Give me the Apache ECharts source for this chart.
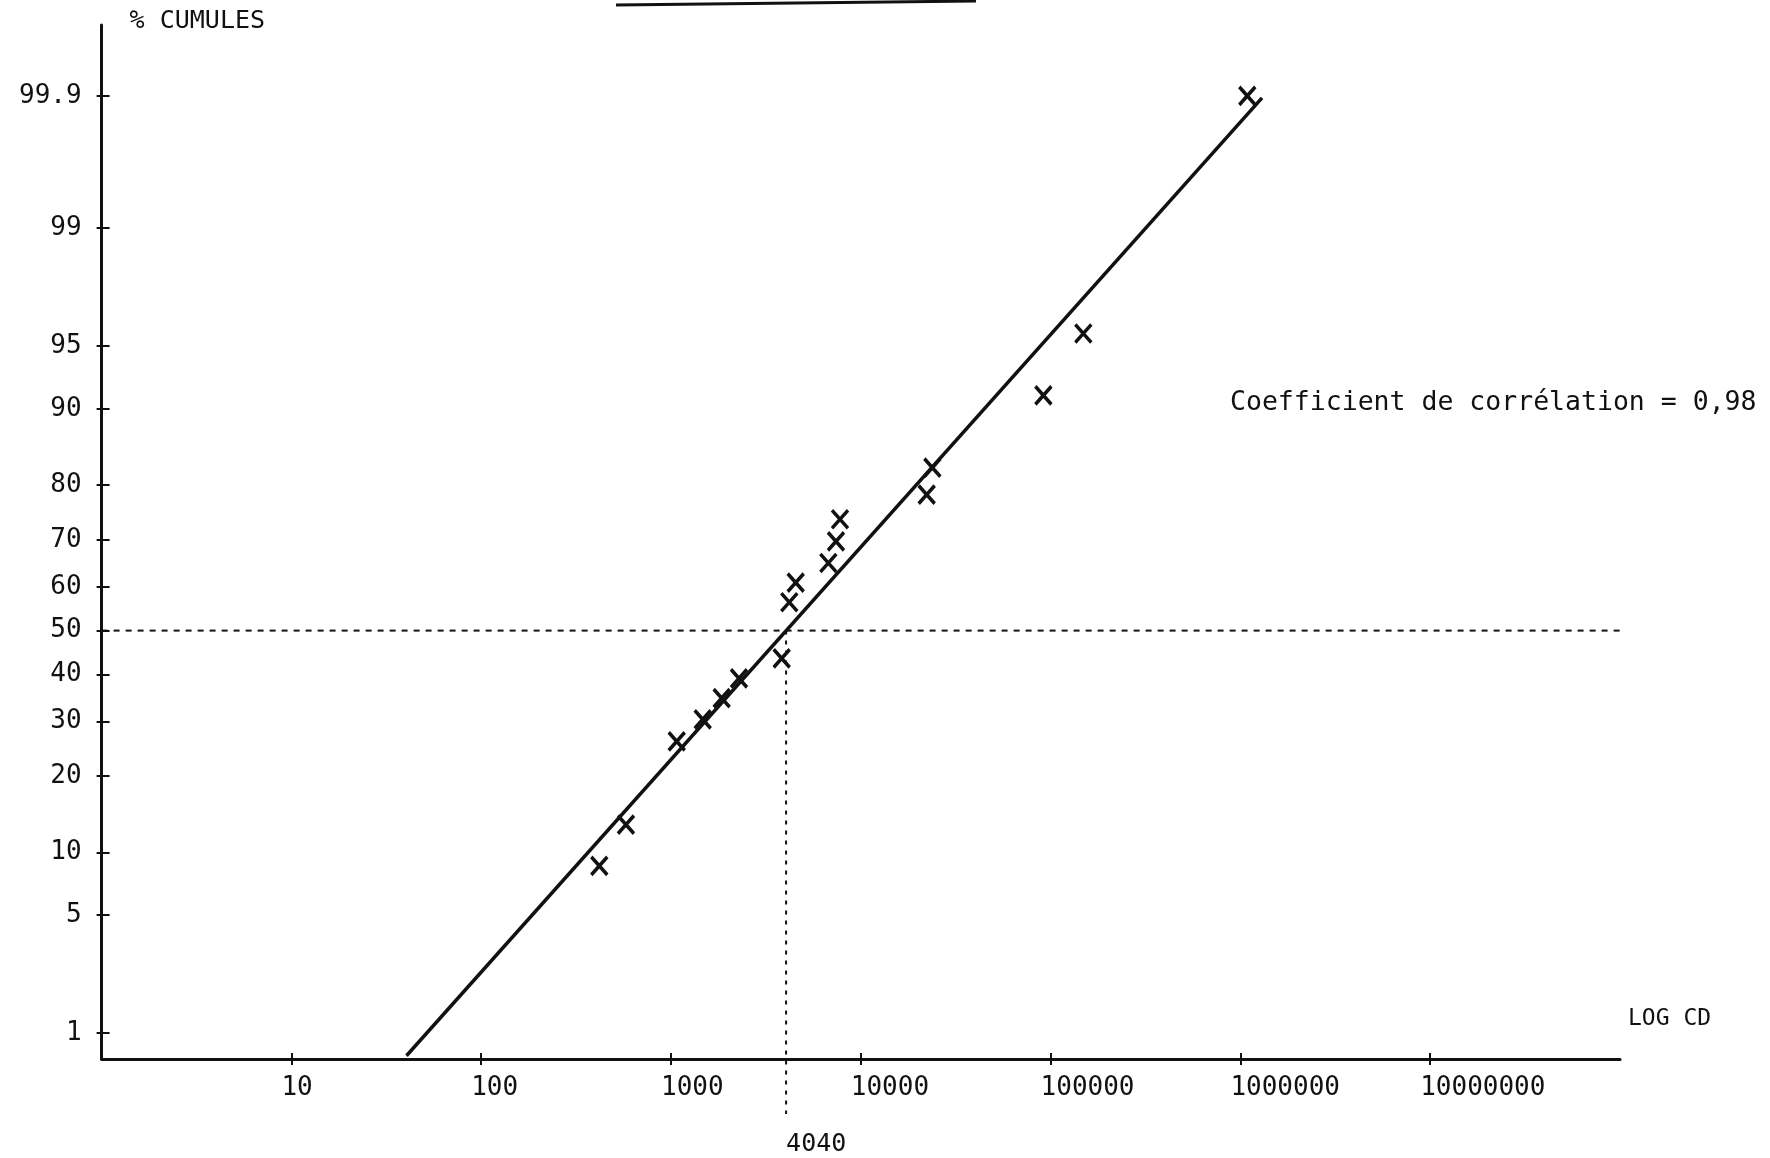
<!DOCTYPE html>
<html>
<head>
<meta charset="utf-8">
<title>Droite de Henry – log CD</title>
<script src="https://cdn.jsdelivr.net/npm/echarts@6/dist/echarts.min.js"></script>
<style>
  html, body { margin: 0; padding: 0; background: #ffffff; }
  #chart { width: 1770px; height: 1158px; }
</style>
</head>
<body>
<div id="chart"></div>
<script>
// Sample values (log scale) and their cumulative frequencies (%)
const sampleValues = [419, 579, 1072, 1469, 1849, 2281, 3830, 4200, 4540, 6745, 7400, 7770, 22240, 23820, 91600, 148700, 1087000];
const cumulativePct = [8.7, 13.1, 26.1, 30.4, 34.8, 39.1, 43.6, 56.5, 60.9, 65.2, 69.7, 74.0, 78.4, 82.7, 91.3, 95.7, 99.9];

// Fitted line end points [value, cumulative %]
const fitLine = [[40.4, 0.70], [1300000, 99.896]];

// Median read on the fitted line
const medianValue = 4040;
const medianPct = 50;
const medianGuideBottomPct = 0.26;

// Axis ticks
const xTicks = [10, 100, 1000, 10000, 100000, 1000000, 10000000];
const xTickLabels = ['10', '100', '1000', '10000', '100000', '1000000', '10000000'];
const yTicks = [1, 5, 10, 20, 30, 40, 50, 60, 70, 80, 90, 95, 99, 99.9];
const yTickLabels = ['1', '5', '10', '20', '30', '40', '50', '60', '70', '80', '90', '95', '99', '99.9'];

const xMin = 1, xMax = 1e8;
// probability axis bounds expressed as normal quantiles
const yMinZ = -2.476, yMaxZ = 3.50;

// Inverse of the standard normal CDF (Acklam's rational approximation)
function probit(p) {
  const a = [-3.969683028665376e+01, 2.209460984245205e+02, -2.759285104469687e+02, 1.383577518672690e+02, -3.066479806614716e+01, 2.506628277459239e+00];
  const b = [-5.447609879822406e+01, 1.615858368580409e+02, -1.556989798598866e+02, 6.680131188771972e+01, -1.328068155056727e+01];
  const c = [-7.784894002430293e-03, -3.223964580411365e-01, -2.400758277161838e+00, -2.549732531343734e+00, 4.374664141464968e+00, 2.938163982698783e+00];
  const d = [7.784695709041462e-03, 3.224671290700398e-01, 2.445134137142996e+00, 3.754408661907416e+00];
  const pl = 0.02425, ph = 1 - pl;
  let q, r;
  if (p < pl) {
    q = Math.sqrt(-2 * Math.log(p));
    return (((((c[0]*q + c[1])*q + c[2])*q + c[3])*q + c[4])*q + c[5]) /
           ((((d[0]*q + d[1])*q + d[2])*q + d[3])*q + 1);
  }
  if (p <= ph) {
    q = p - 0.5; r = q * q;
    return (((((a[0]*r + a[1])*r + a[2])*r + a[3])*r + a[4])*r + a[5]) * q /
           (((((b[0]*r + b[1])*r + b[2])*r + b[3])*r + b[4])*r + 1);
  }
  q = Math.sqrt(-2 * Math.log(1 - p));
  return -(((((c[0]*q + c[1])*q + c[2])*q + c[3])*q + c[4])*q + c[5]) /
          ((((d[0]*q + d[1])*q + d[2])*q + d[3])*q + 1);
}
const zOf = pct => probit(pct / 100);

const yTickZ = yTicks.map(zOf);
function yLabelFor(v) {
  let best = 0, bd = Infinity;
  yTickZ.forEach((z, i) => { const dd = Math.abs(z - v); if (dd < bd) { bd = dd; best = i; } });
  return bd < 1e-6 ? yTickLabels[best] : '';
}
function xLabelFor(v) {
  const i = xTicks.findIndex(t => Math.abs(Math.log10(t) - Math.log10(v)) < 1e-6);
  return i >= 0 ? xTickLabels[i] : '';
}

const MONO = '"DejaVu Sans Mono", "Liberation Mono", monospace';
const INK = '#111111';

const chart = echarts.init(document.getElementById('chart'), null, { renderer: 'canvas' });

const points = sampleValues.map((v, i) => [v, zOf(cumulativePct[i])]);
const fitData = fitLine.map(p => [p[0], zOf(p[1])]);

const option = {
  animation: false,
  backgroundColor: '#ffffff',
  title: {
    text: 'Coefficient de corrélation = 0,98',
    left: 1230,
    top: 390,
    padding: 0,
    textStyle: { fontFamily: MONO, fontSize: 26.5, fontWeight: 'normal', color: INK }
  },
  graphic: [{
    type: 'line',
    shape: { x1: 616, y1: 5, x2: 976, y2: 1 },
    style: { stroke: INK, lineWidth: 3 }
  }],
  grid: { left: 101.6, right: 150, top: 25, bottom: 99 },
  xAxis: [{
    type: 'log',
    logBase: 10,
    min: xMin,
    max: xMax,
    name: 'LOG CD',
    nameLocation: 'end',
    nameGap: 8,
    nameTextStyle: {
      fontFamily: MONO, fontSize: 23, color: INK,
      align: 'left', verticalAlign: 'bottom', padding: [0, 0, 28, 0]
    },
    axisLine: { onZero: false, lineStyle: { color: INK, width: 3 } },
    axisTick: { show: true, length: 6, lineStyle: { color: INK, width: 2 }, customValues: xTicks },
    axisLabel: {
      customValues: xTicks,
      formatter: xLabelFor,
      fontFamily: MONO, fontSize: 26, color: INK,
      margin: 16, align: 'left', padding: [0, 0, 0, -10]
    },
    splitLine: { show: false },
    minorTick: { show: false }
  }, {
    type: 'log',
    logBase: 10,
    min: xMin,
    max: xMax,
    position: 'bottom',
    axisLine: { show: false, onZero: false },
    axisTick: { show: true, inside: true, length: 6, lineStyle: { color: INK, width: 2 }, customValues: xTicks },
    axisLabel: { show: false },
    splitLine: { show: false }
  }],
  yAxis: [{
    type: 'value',
    min: yMinZ,
    max: yMaxZ,
    name: '% CUMULES',
    nameLocation: 'end',
    nameGap: 4,
    nameTextStyle: {
      fontFamily: MONO, fontSize: 25, color: INK,
      align: 'left', verticalAlign: 'middle', padding: [0, 0, 0, 28]
    },
    axisLine: { show: true, onZero: false, lineStyle: { color: INK, width: 3 } },
    axisTick: { show: true, length: 5, lineStyle: { color: INK, width: 2 }, customValues: yTickZ },
    axisLabel: {
      customValues: yTickZ,
      formatter: yLabelFor,
      fontFamily: MONO, fontSize: 26, color: INK, margin: 20
    },
    splitLine: { show: false }
  }, {
    type: 'value',
    min: yMinZ,
    max: yMaxZ,
    position: 'left',
    axisLine: { show: false, onZero: false },
    axisTick: { show: true, inside: true, length: 8, lineStyle: { color: INK, width: 2 }, customValues: yTickZ },
    axisLabel: { show: false },
    splitLine: { show: false }
  }],
  series: [
    {
      name: 'médiane (horizontale)',
      type: 'line',
      data: [[xMin, zOf(medianPct)], [xMax, zOf(medianPct)]],
      symbol: 'none',
      lineStyle: { color: INK, width: 2, type: [6, 6] },
      z: 1
    },
    {
      name: 'médiane (verticale)',
      type: 'line',
      clip: false,
      data: [[medianValue, zOf(medianPct)], [medianValue, zOf(medianGuideBottomPct)]],
      symbol: 'none',
      lineStyle: { color: INK, width: 2, type: [4, 6] },
      z: 1
    },
    {
      name: 'médiane (valeur)',
      type: 'scatter',
      clip: false,
      data: [[medianValue, zOf(medianGuideBottomPct)]],
      symbolSize: 1,
      itemStyle: { color: 'rgba(0,0,0,0)', opacity: 1 },
      label: {
        show: true,
        formatter: String(medianValue),
        position: 'bottom',
        align: 'left',
        distance: 17,
        fontFamily: MONO, fontSize: 25, color: INK, opacity: 1
      },
      z: 1
    },
    {
      name: 'droite ajustée',
      type: 'line',
      data: fitData,
      symbol: 'none',
      lineStyle: { color: INK, width: 3.5 },
      z: 2
    },
    {
      name: 'échantillons',
      type: 'scatter',
      data: points,
      symbol: 'path://M0,0 L10,10 M10,0 L0,10',
      symbolSize: [16, 18],
      itemStyle: { color: 'rgba(0,0,0,0)', borderColor: INK, borderWidth: 3.6, opacity: 1 },
      z: 3
    }
  ]
};

chart.setOption(option);
</script>
</body>
</html>
